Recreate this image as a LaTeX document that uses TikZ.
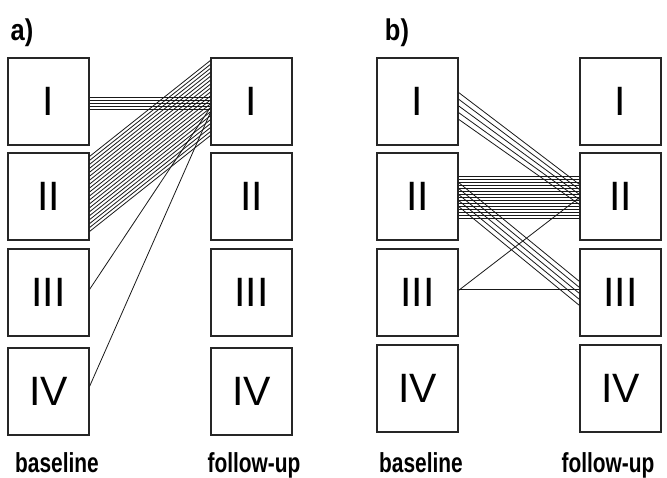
\documentclass[tikz,border=0pt]{standalone}
\usepackage{fontspec}
\setmainfont{Liberation Sans}
\usetikzlibrary{calc}
\tikzset{
  box/.style={draw=black!85, line width=1.1pt, minimum width=81pt, minimum height=87pt,
              inner sep=0pt, font=\fontsize{41}{41}\selectfont},
  link/.style={draw=black!90, line width=0.8pt},
  panel/.style={font=\bfseries\fontsize{30}{30}\selectfont, inner sep=0pt, anchor=base},
  axis/.style={font=\bfseries\fontsize{27.5}{27.5}\selectfont, inner sep=0pt, anchor=base}
}
\newcommand{\narrow}[2]{\scalebox{#1}[1]{#2}}
\begin{document}
\begin{tikzpicture}[x=1pt,y=-1pt]
\useasboundingbox (0,0) rectangle (667,477);

% panel a boxes
\node[box] (aL1) at (48.5,101.5) {I};
\node[box] (aL2) at (48.5,196.5) {II};
\node[box] (aL3) at (48.5,292.5) {III};
\node[box] (aL4) at (48.5,391.5) {IV};
\node[box] (aR1) at (251.5,101.5) {I};
\node[box] (aR2) at (251.5,196.5) {II};
\node[box] (aR3) at (251.5,292.5) {III};
\node[box] (aR4) at (251.5,391.5) {IV};

% panel b boxes
\node[box] (bL1) at (417.5,101.5) {I};
\node[box] (bL2) at (417.5,196.5) {II};
\node[box] (bL3) at (417.5,292.5) {III};
\node[box] (bL4) at (417.5,388.5) {IV};
\node[box] (bR1) at (620.5,101.5) {I};
\node[box] (bR2) at (620.5,196.5) {II};
\node[box] (bR3) at (620.5,292.5) {III};
\node[box] (bR4) at (620.5,388.5) {IV};

% panel a connectors (offsets measured down from the box tops)
\foreach \d in {40,43,46,49,52}
  \draw[link] ([yshift=-\d pt]aL1.north east) -- ([yshift=-\d pt]aR1.north west);
\foreach \i in {0,...,19}
  \draw[link] ([yshift=-(4+3.95*\i)*1pt]aL2.north east) -- ([yshift=-(3+3.95*\i)*1pt]aR1.north west);
\draw[link] ([yshift=-41pt]aL3.north east) -- ([yshift=-50pt]aR1.north west);
\draw[link] ([yshift=-39pt]aL4.north east) -- ([yshift=-55pt]aR1.north west);

% panel b connectors
\foreach \i in {0,...,4}
  \draw[link] ([yshift=-(35+6.7*\i)*1pt]bL1.north east) -- ([yshift=-(32+5*\i)*1pt]bR2.north west);
\foreach \i in {0,...,14}
  \draw[link] ([yshift=-(24+3*\i)*1pt]bL2.north east) -- ([yshift=-(24+3*\i)*1pt]bR2.north west);
\foreach \i in {0,...,4}
  \draw[link] ([yshift=-(30+6*\i)*1pt]bL2.north east) -- ([yshift=-(33+6*\i)*1pt]bR3.north west);
\draw[link] ([yshift=-42pt]bL3.north east) -- ([yshift=-45pt]bR2.north west);
\draw[link] ([yshift=-41pt]bL3.north east) -- ([yshift=-41pt]bR3.north west);

% panel letters
\node[panel] (la) at (22,40) {\narrow{0.85}{a)}};
\node[panel] (lb) at (397,40) {\narrow{0.85}{b)}};

% column captions
\node[axis] (ca1) at (57,472) {\narrow{0.76}{baseline}};
\node[axis] (ca2) at (254,472) {\narrow{0.76}{follow-up}};
\node[axis] (cb1) at (421,472) {\narrow{0.76}{baseline}};
\node[axis] (cb2) at (608,472) {\narrow{0.76}{follow-up}};
\end{tikzpicture}
\end{document}
